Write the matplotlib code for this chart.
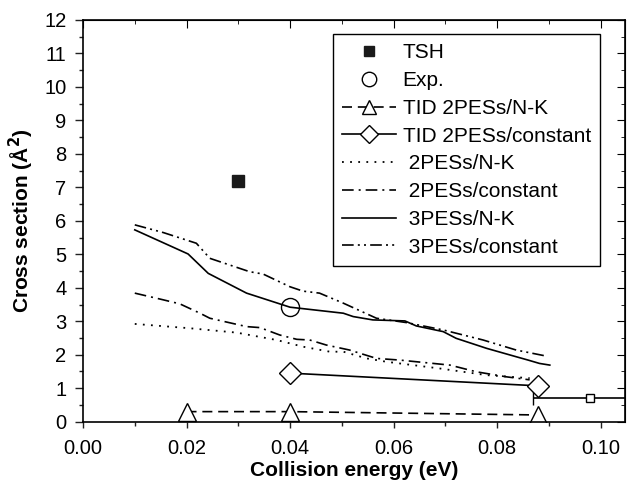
import matplotlib
matplotlib.use("Agg")
import matplotlib.pyplot as plt
from matplotlib.ticker import MultipleLocator, FormatStrFormatter

plt.rcParams['font.family'] = ['Liberation Sans', 'DejaVu Sans']

# Data
tsh_x = [0.03]
tsh_y = [7.2]

exp_x = [0.04]
exp_y = [3.42]
exp2_x = [0.098]
exp2_y = [0.72]
exp2_xerr = [0.011]

tid_nk_x = [0.02, 0.04, 0.088]
tid_nk_y = [0.3, 0.3, 0.2]

tid_c_x = [0.04, 0.088]
tid_c_y = [1.45, 1.07]

nk3_x = [0.01, 0.0203, 0.0242, 0.0316, 0.04, 0.0503, 0.0522, 0.056, 0.0622, 0.0644,
         0.0696, 0.0721, 0.078, 0.0837, 0.086, 0.0882, 0.0902]
nk3_y = [5.73, 5.01, 4.43, 3.84, 3.42, 3.24, 3.14, 3.04, 3.01, 2.86,
         2.69, 2.49, 2.19, 1.94, 1.84, 1.74, 1.69]

c3_x = [0.01, 0.0155, 0.0219, 0.0245, 0.0322, 0.0348, 0.04, 0.0425, 0.0457, 0.0503,
        0.0567, 0.0625, 0.0696, 0.0773, 0.0837, 0.0895]
c3_y = [5.88, 5.65, 5.33, 4.88, 4.48, 4.41, 4.03, 3.90, 3.84, 3.54,
        3.09, 2.96, 2.74, 2.44, 2.14, 1.96]

c2_x = [0.01, 0.0155, 0.0187, 0.0226, 0.0245, 0.0316, 0.0342, 0.038, 0.0413, 0.0438,
        0.047, 0.0515, 0.0567, 0.0612, 0.0709, 0.076, 0.0818, 0.0863]
c2_y = [3.84, 3.64, 3.52, 3.24, 3.09, 2.84, 2.81, 2.59, 2.46, 2.44,
        2.29, 2.14, 1.89, 1.84, 1.69, 1.49, 1.34, 1.25]

nk2_x = [0.01, 0.0207, 0.0297, 0.0374, 0.0425, 0.0477, 0.0503, 0.0548, 0.0586,
         0.0689, 0.078, 0.0863]
nk2_y = [2.92, 2.79, 2.66, 2.44, 2.24, 2.09, 2.09, 1.89, 1.79,
         1.59, 1.39, 1.30]

labels = ['TSH', 'Exp.', 'TID 2PESs/N-K', 'TID 2PESs/constant',
          ' 2PESs/N-K', ' 2PESs/constant', ' 3PESs/N-K', ' 3PESs/constant']

fig = plt.figure(figsize=(6.28, 4.91), dpi=100)
ax = fig.add_axes([0.1322, 0.1412, 0.8628, 0.8181])

k = 'black'
h_tsh, = ax.plot(tsh_x, tsh_y, 's', color='#1a1a1a', ms=9, ls='none')
h_exp, = ax.plot(exp_x, exp_y, 'o', mfc='white', mec=k, ms=13, mew=1.0, ls='none')
ax.errorbar(exp2_x, exp2_y, xerr=exp2_xerr, fmt='s', mfc='white', mec=k, ms=6,
            mew=1.0, ecolor=k, elinewidth=1.2, capsize=5, capthick=1.2, color=k, clip_on=True)
h_tnk, = ax.plot(tid_nk_x, tid_nk_y, '^', ls=(0, (6, 3.5)), color=k, mfc='white', mec=k,
                 ms=13, mew=1.0, lw=1.2)
h_tc, = ax.plot(tid_c_x, tid_c_y, 'D', ls='-', color=k, mfc='white', mec=k,
                ms=11, mew=1.0, lw=1.2)
h_nk2, = ax.plot(nk2_x, nk2_y, ls=(0, (1, 3.5)), color=k, lw=1.3)
h_c2, = ax.plot(c2_x, c2_y, ls=(0, (7, 3, 1.2, 3)), color=k, lw=1.2)
h_nk3, = ax.plot(nk3_x, nk3_y, ls='-', color=k, lw=1.2)
h_c3, = ax.plot(c3_x, c3_y, ls=(0, (7, 2.5, 1.2, 2.5, 1.2, 2.5)), color=k, lw=1.2)

ax.set_xlim(0, 0.1047)
ax.set_ylim(0, 12)
ax.xaxis.set_major_locator(MultipleLocator(0.02))
ax.xaxis.set_minor_locator(MultipleLocator(0.01))
ax.xaxis.set_major_formatter(FormatStrFormatter('%.2f'))
ax.yaxis.set_major_locator(MultipleLocator(1))
ax.yaxis.set_minor_locator(MultipleLocator(0.5))

ax.tick_params(axis='both', which='both', labelsize=14.5, width=1.0, color='#222222')
ax.tick_params(axis='x', which='major', length=4.5, pad=8)
ax.tick_params(axis='y', which='major', length=6, pad=6)
ax.tick_params(axis='both', which='minor', length=3)
ax.tick_params(axis='both', direction='out', top=False, right=False)

ax2 = ax.secondary_xaxis('top')
ax2.xaxis.set_major_locator(MultipleLocator(0.02))
ax2.xaxis.set_minor_locator(MultipleLocator(0.01))
ax2.tick_params(which='both', direction='in', labeltop=False)
ax2.tick_params(which='major', length=6)
ax2.tick_params(which='minor', length=3)
ax3 = ax.secondary_yaxis('right')
ax3.yaxis.set_major_locator(MultipleLocator(1))
ax3.yaxis.set_minor_locator(MultipleLocator(0.5))
ax3.tick_params(which='both', direction='in', labelright=False)
ax3.tick_params(which='major', length=6)
ax3.tick_params(which='minor', length=3)

for s in ax.spines.values():
    s.set_linewidth(1.2)

ax.set_xlabel('Collision energy (eV)', fontsize=15, fontweight='bold', labelpad=2)
ax.set_ylabel('Cross section (Å$^\\mathbf{2}$)', fontsize=15, fontweight='bold', labelpad=6)

leg = ax.legend([h_tsh, h_exp, h_tnk, h_tc, h_nk2, h_c2, h_nk3, h_c3], labels,
                loc='upper left', bbox_to_anchor=(0.461, 0.965), fontsize=15,
                frameon=True, fancybox=False, edgecolor=k, framealpha=1,
                handlelength=2.6, handletextpad=0.3, labelspacing=0.42,
                borderpad=0.45, borderaxespad=0, markerscale=0.8)
leg.get_frame().set_linewidth(1.0)

fig.savefig('out.png', dpi=100)
